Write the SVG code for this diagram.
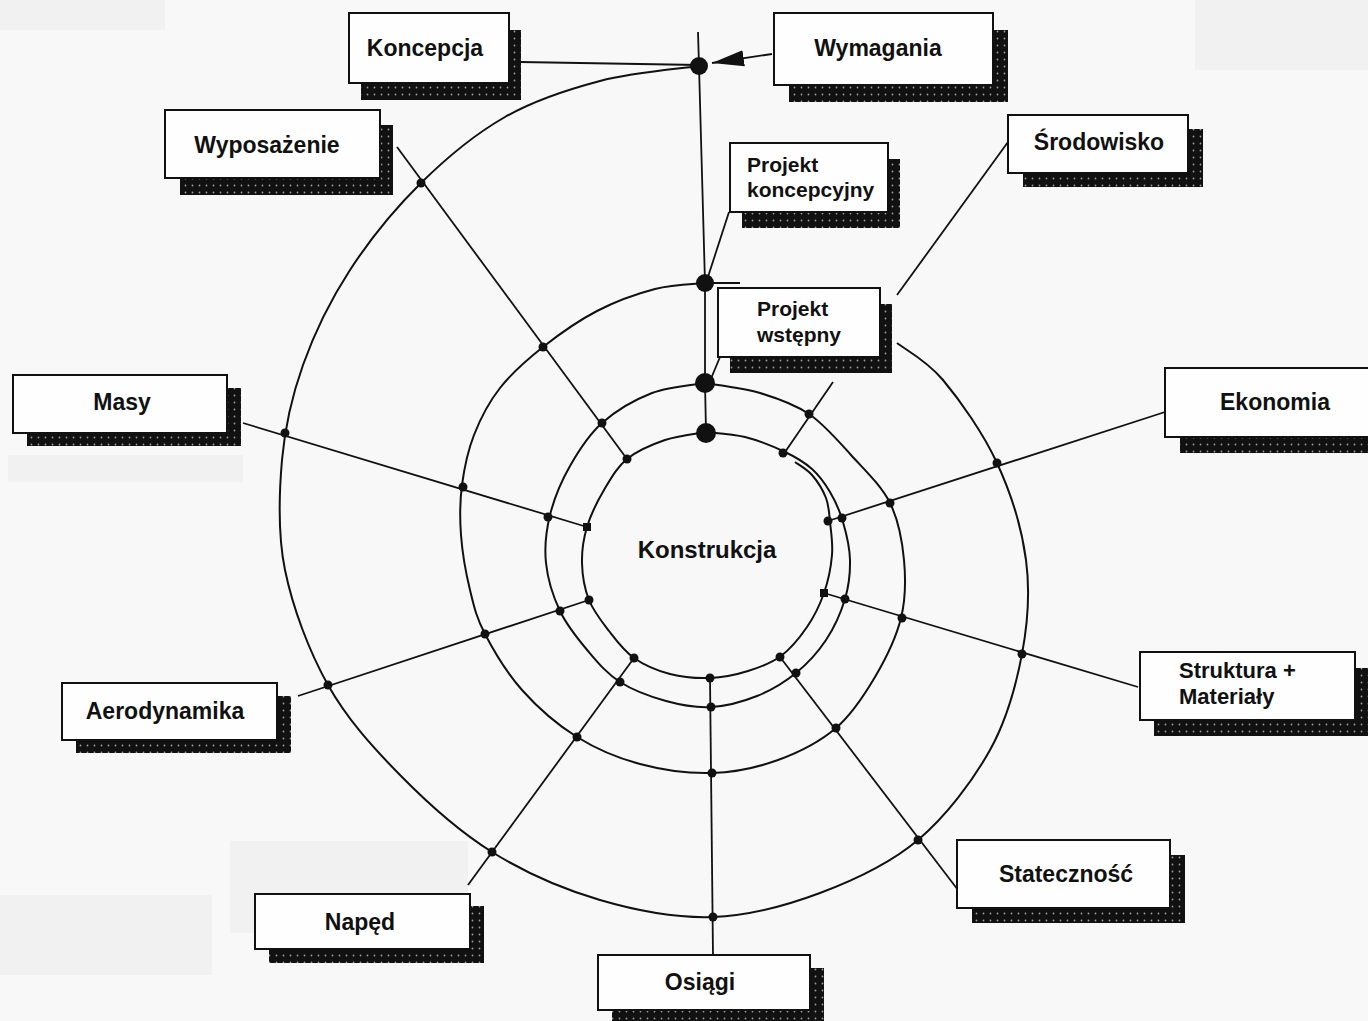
<svg xmlns="http://www.w3.org/2000/svg" width="1368" height="1021" viewBox="0 0 1368 1021">
<defs>
<pattern id="dots" width="7" height="7" patternUnits="userSpaceOnUse">
<rect width="7" height="7" fill="#111"/>
<circle cx="3.5" cy="3.5" r="0.9" fill="#9a9a9a"/>
</pattern>
<marker id="arr" markerUnits="userSpaceOnUse" markerWidth="34" markerHeight="20" refX="32" refY="10" orient="auto">
<path d="M0,2 L32,10 L0,18 Z" fill="#111"/>
</marker>
<style>
.bx{fill:#fefefe;stroke:#111;stroke-width:2}
.sh{fill:url(#dots)}
.t{font-family:"Liberation Sans",Arial,sans-serif;font-weight:bold;font-size:23px;fill:#111;text-anchor:middle}
.tl{font-family:"Liberation Sans",Arial,sans-serif;font-weight:bold;font-size:21px;fill:#111}
.sp{fill:none;stroke:#111;stroke-width:2}
.ln{fill:none;stroke:#111;stroke-width:1.8}
.d{fill:#111}
</style>
</defs>
<rect width="1368" height="1021" fill="#f8f8f8"/>
<g fill="#f1f1f1">
<rect x="0" y="0" width="165" height="30"/>
<rect x="1195" y="0" width="173" height="70"/>
<rect x="8" y="455" width="235" height="27"/>
<rect x="230" y="841" width="238" height="92"/>
<rect x="0" y="895" width="212" height="80"/>
</g>

<g id="connectors">
<path class="sp" d="M699,66 C682.5,68.5 632.3,72.5 600,81 C567.7,89.5 534.8,100 505,117 C475.2,134 446.8,157.5 421,183 C395.2,208.5 369.7,239.7 350,270 C330.3,300.3 314.3,333.3 303,365 C291.7,396.7 285,425.8 282,460 C279,494.2 277.3,532.5 285,570 C292.7,607.5 308.8,650.8 328,685 C347.2,719.2 372.7,747.2 400,775 C427.3,802.8 458.7,831.2 492,852 C525.3,872.8 563.2,889.2 600,900 C636.8,910.8 676.3,918.2 713,917 C749.7,915.8 785.8,905.8 820,893 C854.2,880.2 889.7,863.8 918,840 C946.3,816.2 972.7,781 990,750 C1007.3,719 1016,685.7 1022,654 C1028,622.3 1030.2,591.8 1026,560 C1021.8,528.2 1010.8,493 997,463 C983.2,433 959.7,400 943,380 C926.3,360 904.7,349.2 897,343"/>
<path class="sp" d="M705,283 C696.7,284 673,284.3 655,289 C637,293.7 615.7,301.3 597,311 C578.3,320.7 559.2,334.2 543,347 C526.8,359.8 511.5,373.3 500,388 C488.5,402.7 480.3,418.8 474,435 C467.7,451.2 464.2,468.3 462,485 C459.8,501.7 459.7,517.5 461,535 C462.3,552.5 466,573.5 470,590 C474,606.5 476.3,617.3 485,634 C493.7,650.7 506.7,672.8 522,690 C537.3,707.2 557.3,724.7 577,737 C596.7,749.3 617.5,758 640,764 C662.5,770 689,773.7 712,773 C735,772.3 757.3,767.5 778,760 C798.7,752.5 819.8,741.8 836,728 C852.2,714.2 864.2,695.3 875,677 C885.8,658.7 896.2,637.5 901,618 C905.8,598.5 905.8,579.2 904,560 C902.2,540.8 898.8,520.5 890,503 C881.2,485.5 864.5,469.8 851,455 C837.5,440.2 824.2,424.3 809,414 C793.8,403.7 777.3,398.2 760,393 C742.7,387.8 714.2,384.7 705,383"/>
<path class="sp" d="M705,383 C696.2,384.7 669.2,386.3 652,393 C634.8,399.7 615.7,410.8 602,423 C588.3,435.2 578.7,450.7 570,466 C561.3,481.3 554,498.8 550,515 C546,531.2 544.3,547 546,563 C547.7,579 553,596.3 560,611 C567,625.7 578,639.2 588,651 C598,662.8 607,673.7 620,682 C633,690.3 650.8,696.8 666,701 C681.2,705.2 695.8,707.8 711,707 C726.2,706.2 742.8,701.7 757,696 C771.2,690.3 784.5,682.3 796,673 C807.5,663.7 817.8,652.3 826,640 C834.2,627.7 841,612.3 845,599 C849,585.7 850.3,572.8 850,560 C849.7,547.2 846.3,533.3 843,522 C839.7,510.7 835.2,500.8 830,492 C824.8,483.2 819.5,475.7 812,469 C804.5,462.3 796.2,457.3 785,452 C773.8,446.7 758.2,440.3 745,437 C731.8,433.7 712.5,432.8 706,432"/>
<path class="sp" d="M706,432 C699.2,433.3 678.2,435.5 665,440 C651.8,444.5 637.2,450.7 627,459 C616.8,467.3 610.7,478.7 604,490 C597.3,501.3 590.7,514.8 587,527 C583.3,539.2 581.7,550.8 582,563 C582.3,575.2 584.5,588.7 589,600 C593.5,611.3 601.5,621.3 609,631 C616.5,640.7 623.8,650.8 634,658 C644.2,665.2 657.3,670.7 670,674 C682.7,677.3 697,678.5 710,678 C723,677.5 736.2,674.7 748,671 C759.8,667.3 771.2,663.3 781,656 C790.8,648.7 799.8,637.5 807,627 C814.2,616.5 819.8,605 824,593 C828.2,581 831,566.8 832,555 C833,543.2 831,531.5 830,522 C829,512.5 829,505.8 826,498 C823,490.2 817.2,481 812,475 C806.8,469 797.8,464.2 795,462"/>
<polyline class="ln" points="698,32 699,66 705,283 705,383 706,432"/>
<line class="ln" x1="520" y1="62" x2="699" y2="65"/>
<line class="ln" x1="772" y1="54" x2="712" y2="63" marker-end="url(#arr)"/>
<line class="ln" x1="705" y1="283" x2="740" y2="283"/>
<line class="ln" x1="729" y1="212" x2="706" y2="283"/>
<line class="ln" x1="720" y1="357" x2="710" y2="381"/>
<line class="ln" x1="397" y1="147" x2="627" y2="459"/>
<line class="ln" x1="243" y1="423" x2="587" y2="527"/>
<line class="ln" x1="298" y1="696" x2="589" y2="600"/>
<line class="ln" x1="468" y1="885" x2="634" y2="658"/>
<line class="ln" x1="710" y1="678" x2="713" y2="955"/>
<line class="ln" x1="780" y1="657" x2="958" y2="890"/>
<line class="ln" x1="824" y1="593" x2="1138" y2="687"/>
<line class="ln" x1="1165" y1="412" x2="828" y2="521"/>
<line class="ln" x1="1008" y1="142" x2="897" y2="295"/>
<line class="ln" x1="833" y1="382" x2="783" y2="455"/>
</g>

<g id="dots-group">
<circle class="d" cx="699" cy="66" r="9"/>
<circle class="d" cx="705" cy="283" r="9"/>
<circle class="d" cx="705" cy="383" r="10"/>
<circle class="d" cx="706" cy="433" r="10"/>
<circle class="d" cx="421" cy="183" r="4.5"/>
<circle class="d" cx="543" cy="347" r="4.5"/>
<circle class="d" cx="602" cy="423" r="4.5"/>
<circle class="d" cx="627" cy="459" r="4.5"/>
<circle class="d" cx="285" cy="433" r="4.5"/>
<circle class="d" cx="463" cy="487" r="4.5"/>
<circle class="d" cx="548" cy="517" r="4.5"/>
<rect class="d" x="583" y="523" width="8" height="8"/>
<circle class="d" cx="328" cy="685" r="4.5"/>
<circle class="d" cx="485" cy="634" r="4.5"/>
<circle class="d" cx="560" cy="611" r="4.5"/>
<circle class="d" cx="589" cy="600" r="4.5"/>
<circle class="d" cx="492" cy="852" r="4.5"/>
<circle class="d" cx="577" cy="737" r="4.5"/>
<circle class="d" cx="620" cy="682" r="4.5"/>
<circle class="d" cx="634" cy="658" r="4.5"/>
<circle class="d" cx="713" cy="917" r="4.5"/>
<circle class="d" cx="712" cy="773" r="4.5"/>
<circle class="d" cx="711" cy="707" r="4.5"/>
<circle class="d" cx="710" cy="678" r="4.5"/>
<circle class="d" cx="918" cy="840" r="4.5"/>
<circle class="d" cx="836" cy="728" r="4.5"/>
<circle class="d" cx="796" cy="673" r="4.5"/>
<circle class="d" cx="780" cy="657" r="4.5"/>
<circle class="d" cx="1022" cy="654" r="4.5"/>
<circle class="d" cx="902" cy="618" r="4.5"/>
<circle class="d" cx="845" cy="599" r="4.5"/>
<rect class="d" x="820" y="589" width="8" height="8"/>
<circle class="d" cx="997" cy="463" r="4.5"/>
<circle class="d" cx="890" cy="503" r="4.5"/>
<circle class="d" cx="842" cy="518" r="4.5"/>
<circle class="d" cx="828" cy="521" r="4.5"/>
<circle class="d" cx="809" cy="414" r="4.5"/>
<circle class="d" cx="783" cy="453" r="4.5"/>
</g>

<g id="koncepcja"><rect class="sh" x="361" y="30" width="160" height="70"/><rect class="bx" x="349" y="13" width="160" height="70"/><text class="t" x="425" y="56">Koncepcja</text></g>
<g id="wymagania"><rect class="sh" x="789" y="30" width="219" height="72"/><rect class="bx" x="774" y="13" width="219" height="72"/><text class="t" x="878" y="56">Wymagania</text></g>
<g id="wyposazenie"><rect class="sh" x="180" y="125" width="213" height="70"/><rect class="bx" x="165" y="110" width="215" height="68"/><text class="t" x="267" y="153">Wyposażenie</text></g>
<g id="projekt-koncepcyjny"><rect class="sh" x="742" y="159" width="158" height="69"/><rect class="bx" x="730" y="143" width="158" height="69"/><text class="tl" x="747" y="172">Projekt</text><text class="tl" x="747" y="197">koncepcyjny</text></g>
<g id="srodowisko"><rect class="sh" x="1023" y="129" width="180" height="58"/><rect class="bx" x="1008" y="115" width="180" height="58"/><text class="t" x="1099" y="150">Środowisko</text></g>
<g id="projekt-wstepny"><rect class="sh" x="730" y="304" width="162" height="69"/><rect class="bx" x="718" y="288" width="162" height="69"/><text class="tl" x="757" y="316">Projekt</text><text class="tl" x="757" y="342">wstępny</text></g>
<g id="masy"><rect class="sh" x="27" y="388" width="214" height="58"/><rect class="bx" x="13" y="375" width="214" height="58"/><text class="t" x="122" y="410">Masy</text></g>
<g id="ekonomia"><rect class="sh" x="1180" y="384" width="210" height="69"/><rect class="bx" x="1165" y="368" width="215" height="69"/><text class="t" x="1275" y="410">Ekonomia</text></g>
<g id="aerodynamika"><rect class="sh" x="76" y="696" width="215" height="57"/><rect class="bx" x="62" y="683" width="215" height="57"/><text class="t" x="165" y="719">Aerodynamika</text></g>
<g id="struktura"><rect class="sh" x="1154" y="668" width="215" height="68"/><rect class="bx" x="1140" y="652" width="215" height="68"/><text class="tl" x="1179" y="678" style="font-size:22px">Struktura +</text><text class="tl" x="1179" y="704" style="font-size:22px">Materiały</text></g>
<g id="statecznosc"><rect class="sh" x="972" y="855" width="213" height="68"/><rect class="bx" x="957" y="840" width="213" height="68"/><text class="t" x="1066" y="882">Stateczność</text></g>
<g id="naped"><rect class="sh" x="269" y="906" width="215" height="57"/><rect class="bx" x="255" y="894" width="215" height="55"/><text class="t" x="360" y="930">Napęd</text></g>
<g id="osiagi"><rect class="sh" x="612" y="968" width="212" height="55"/><rect class="bx" x="598" y="955" width="212" height="55"/><text class="t" x="700" y="990">Osiągi</text></g>
<g id="konstrukcja"><text class="t" x="707" y="558" style="font-size:24px">Konstrukcja</text></g>
</svg>
